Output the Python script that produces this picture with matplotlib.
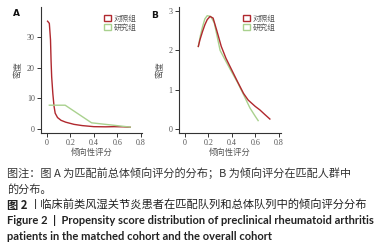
import matplotlib
matplotlib.use("Agg")
import matplotlib.pyplot as plt
from matplotlib.patches import Patch

plt.rcParams['font.family'] = ['Liberation Serif', 'Noto Sans CJK SC', 'DejaVu Sans']

# ---- data ----
a_ctrl_x = [0.005, 0.02, 0.03, 0.035, 0.04, 0.05, 0.06, 0.07, 0.09, 0.12, 0.16, 0.23, 0.3, 0.4, 0.5, 0.57, 0.65, 0.71]
a_ctrl_y = [35, 34.3, 29, 22, 17, 11.5, 7.5, 5.2, 3.8, 2.9, 2.3, 1.6, 1.2, 0.85, 0.8, 0.85, 0.8, 0.65]
a_case_x = [0.02, 0.155, 0.38, 0.57, 0.71]
a_case_y = [7.8, 7.8, 2.1, 1.3, 0.7]

b_ctrl_x = [0.114, 0.128, 0.15, 0.17, 0.19, 0.214, 0.24, 0.27, 0.31, 0.35, 0.4, 0.45, 0.5, 0.54, 0.6, 0.64, 0.68, 0.725]
b_ctrl_y = [2.1, 2.27, 2.48, 2.65, 2.78, 2.86, 2.82, 2.52, 2.1, 1.8, 1.5, 1.2, 0.91, 0.74, 0.58, 0.49, 0.38, 0.26]
b_case_x = [0.114, 0.13, 0.15, 0.17, 0.19, 0.22, 0.25, 0.3, 0.35, 0.39, 0.45, 0.5, 0.555, 0.6, 0.625]
b_case_y = [2.1, 2.35, 2.6, 2.8, 2.88, 2.86, 2.7, 2.0, 1.72, 1.5, 1.18, 0.88, 0.54, 0.33, 0.22]

a_yticks = [0, 10, 20, 30]
b_yticks = [0, 1, 2, 3]
xticks = [0, 0.2, 0.4, 0.6, 0.8]
xtick_labels = ['0', '0.2', '0.4', '0.6', '0.8']
legend_labels = ['对照组', '研究组']
xlabel = '倾向性评分'
ylabel = '密度'

RED = '#b0282e'
GREEN = '#a9d18e'
GRAY = '#555555'
CJK = ['Noto Sans CJK SC', 'DejaVu Sans']

fig = plt.figure(figsize=(3.9, 2.5), dpi=100)
axA = fig.add_axes([41/390, 1-133/250, 101/390, 126/250])
axB = fig.add_axes([179/390, 1-133/250, 102/390, 126/250])

def style(ax, yticks, xlim, ylim):
    for s in ['top', 'right']:
        ax.spines[s].set_visible(False)
    for s in ['left', 'bottom']:
        ax.spines[s].set_color('#333333')
        ax.spines[s].set_linewidth(0.8)
    ax.set_xlim(*xlim)
    ax.set_ylim(*ylim)
    ax.set_xticks(xticks)
    ax.set_xticklabels(xtick_labels)
    ax.set_yticks(yticks)
    ax.tick_params(direction='out', length=3, width=0.7, labelsize=5.8,
                   colors='#333333', labelcolor=GRAY, pad=1.5)
    ax.set_xlabel(xlabel, family=CJK, fontsize=6, color=GRAY, labelpad=0.5)
    ax.set_ylabel(ylabel, family=CJK, fontsize=6, color=GRAY, labelpad=3)
    h = [Patch(facecolor='none', edgecolor=RED, linewidth=1.0),
         Patch(facecolor='none', edgecolor=GREEN, linewidth=1.0)]
    leg = ax.legend(h, legend_labels, loc='upper right', frameon=False,
                    prop={'family': CJK, 'size': 5.5}, handlelength=0.9,
                    handleheight=0.9, handletextpad=0.4, labelspacing=0.1,
                    borderaxespad=0.3, bbox_to_anchor=(1.0, 0.98))
    for t in leg.get_texts():
        t.set_color(GRAY)

axA.plot(a_ctrl_x, a_ctrl_y, color=RED, lw=1.0)
axA.plot(a_case_x, a_case_y, color=GREEN, lw=1.0)
style(axA, a_yticks, (-0.051, 0.81), (-1.2, 39.6))

axB.plot(b_ctrl_x, b_ctrl_y, color=RED, lw=1.0, zorder=3)
axB.plot(b_case_x, b_case_y, color=GREEN, lw=1.0, zorder=2)
style(axB, b_yticks, (-0.051, 0.82), (-0.094, 3.1))

fig.text(13/390, 1-14/250, 'A', family='DejaVu Sans', weight='bold', fontsize=6.5,
         ha='left', va='center', color='#111111')
fig.text(151/390, 1-15/250, 'B', family='DejaVu Sans', weight='bold', fontsize=6.5,
         ha='left', va='center', color='#111111')

# ---- captions ----
cap_color = '#333333'
x0 = 7/390
fig.text(x0, 1-173/250, '图注：图 A 为匹配前总体倾向评分的分布；B 为倾向评分在匹配人群中',
         family=CJK, fontsize=8.0, color=cap_color, va='center')
fig.text(x0, 1-189/250, '的分布。', family=CJK, fontsize=8.0, color=cap_color, va='center')
t1 = fig.text(x0, 1-205/250, '图 2 ', family=CJK, fontsize=8.1, weight='bold',
              color='#222222', va='center')
fig.canvas.draw()
bb = t1.get_window_extent()
fig.text(bb.x1/390, 1-205/250, '丨临床前类风湿关节炎患者在匹配队列和总体队列中的倾向评分分布',
         family=CJK, fontsize=8.1, color='#222222', va='center')
fig.text(x0, 1-221/250, 'Figure 2  |  Propensity score distribution of preclinical rheumatoid arthritis',
         family=['Lato', 'DejaVu Sans'], weight='bold', fontsize=8.0, color='#222222', va='center')
fig.text(x0, 1-237/250, 'patients in the matched cohort and the overall cohort',
         family=['Lato', 'DejaVu Sans'], weight='bold', fontsize=8.0, color='#222222', va='center')

fig.savefig('out.png', dpi=100)
